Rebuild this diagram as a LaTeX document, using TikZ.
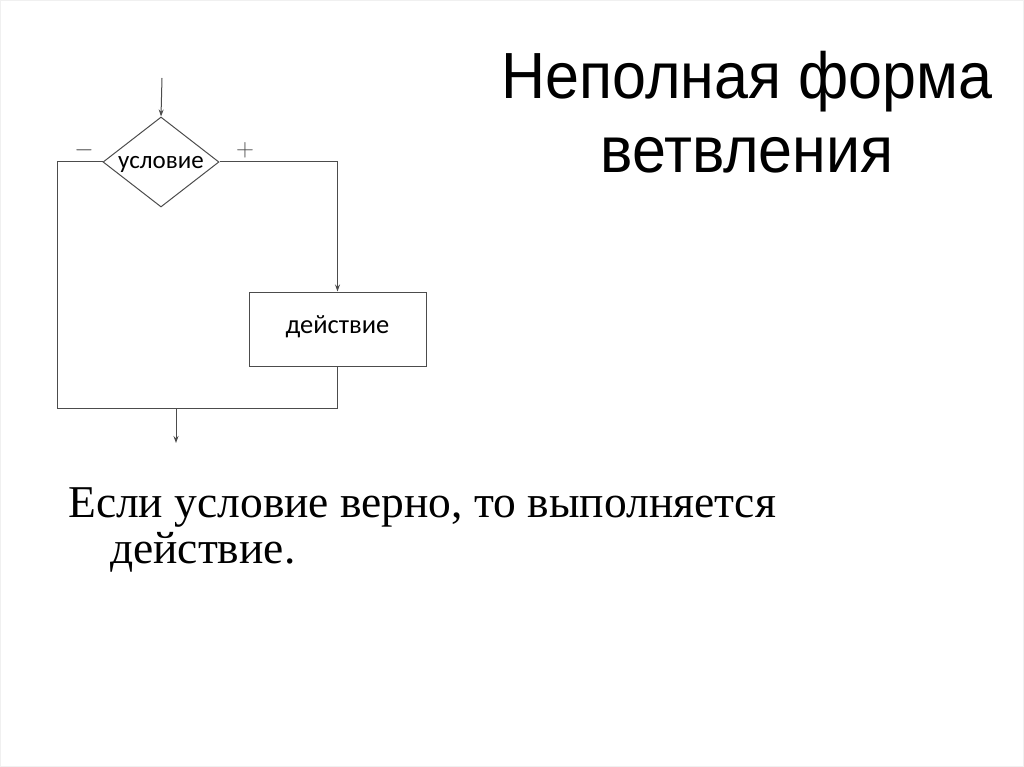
\documentclass[tikz,border=0pt]{standalone}
\usepackage{fontspec}
\setmainfont{Liberation Serif}
\newfontfamily\arial{Liberation Sans}
\newfontfamily\calibri{Carlito}
\usetikzlibrary{shapes.geometric,positioning,arrows.meta}
\tikzset{
	titulo/.style={inner sep=0pt, align=center, text=black,
		font=\arial\fontsize{61}{69}\selectfont},
	texto/.style={inner sep=0pt, align=left, text=black,
		font=\fontsize{45.5}{46}\selectfont},
	rombo/.style={diamond, draw=black!70, line width=1pt, aspect=1.3,
		minimum width=116pt, minimum height=90pt, inner sep=0pt,
		text height=14pt, text depth=0pt,
		font=\calibri\fontsize{25}{28}\selectfont},
	caja/.style={rectangle, draw=black!70, line width=1pt,
		minimum width=177pt, minimum height=74pt, inner sep=0pt,
		text height=8pt, text depth=0pt,
		font=\calibri\fontsize{26.5}{28}\selectfont},
	etiqueta/.style={inner sep=0pt, text=black!70, font=\fontsize{32}{34}\selectfont},
	linea/.style={draw=black!70, line width=1pt},
	flecha/.style={linea, -{Stealth[length=7pt,width=5pt]}}
}

\begin{document}
\begin{tikzpicture}[x=1pt, y=-1pt]
			\useasboundingbox (0,0) rectangle (1024,767);
			\draw[black!6] (0.5,0.5) rectangle (1023.5,766.5);
			
			\node[titulo] (title) at (747,121) {\scalebox{1}[1.07]{\begin{tabular}{@{}c@{}}Неполная форма\\ветвления\end{tabular}}};
			
			% flowchart
			\coordinate (in) at (162,78);
			\node[rombo] (cond) at (161,162) {условие};
			\node[caja] (act) at (337.5,329) {действие};
			\node[etiqueta] (minus) at (84,150) {$-$};
			\node[etiqueta] (plus) at (245,150) {$+$};
			\coordinate (jl) at (57,408);
			\coordinate (jr) at (act.south |- jl);
			\coordinate (out) at (176,408);
			\coordinate (end) at (176,443);
			
			\draw[flecha] (in) -- (cond.north);
			\draw[flecha] (cond.east) -| (act.north);
			\draw[linea] (cond.west) -| (jl) -- (jr) -- (act.south);
			\draw[flecha] (out) -- (end);
			
			\node[texto, anchor=base west] (note) at (68,563) {Если условие верно, то выполняется\\\hspace*{42pt}действие.};
		\end{tikzpicture}
\end{document}
